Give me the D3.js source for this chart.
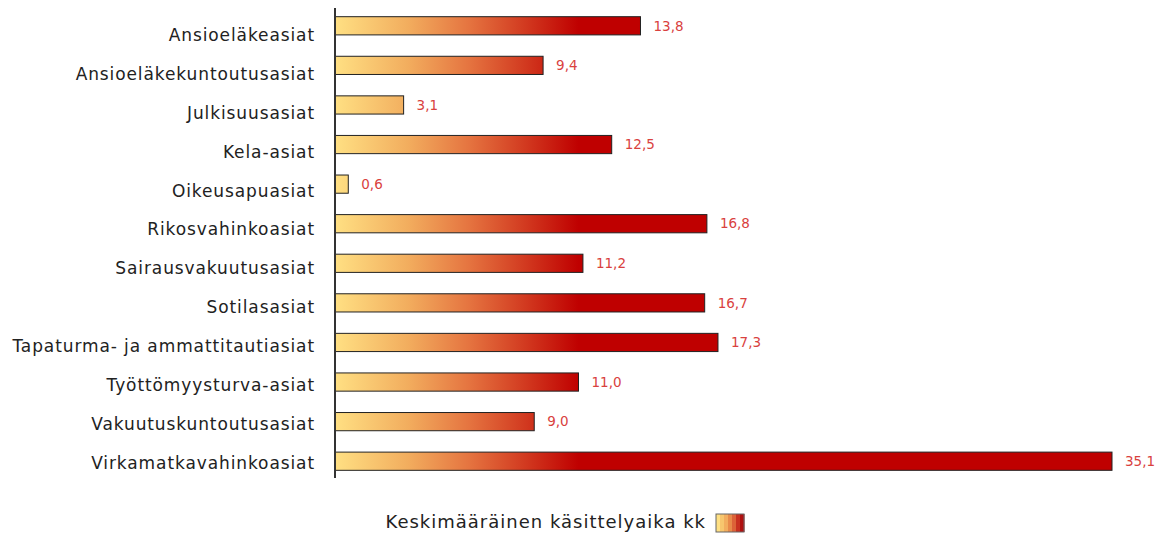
<!DOCTYPE html>
<html>
<head>
<meta charset="utf-8">
<script src="https://cdn.jsdelivr.net/npm/d3@7"></script>
<style>
  body { margin: 0; background: #fff; }
  text { font-family: "DejaVu Sans", sans-serif; }
</style>
</head>
<body>
<script>
// Categories and average handling time (months)
var categories = [
  "Ansioeläkeasiat",
  "Ansioeläkekuntoutusasiat",
  "Julkisuusasiat",
  "Kela-asiat",
  "Oikeusapuasiat",
  "Rikosvahinkoasiat",
  "Sairausvakuutusasiat",
  "Sotilasasiat",
  "Tapaturma- ja ammattitautiasiat",
  "Työttömyysturva-asiat",
  "Vakuutuskuntoutusasiat",
  "Virkamatkavahinkoasiat"
]
var values = [13.8, 9.4, 3.1, 12.5, 0.6, 16.8, 11.2, 16.7, 17.3, 11.0, 9.0, 35.1]
var legendLabel = "Keskimääräinen käsittelyaika kk"

var width = 1161, height = 534
var margin = {top: 6, right: 49, bottom: 53, left: 335}

var svg = d3.select("body").append("svg")
  .attr("width", width)
  .attr("height", height)

var x = d3.scaleLinear()
  .domain([0, d3.max(values)])
  .range([margin.left, width - margin.right])

var y = d3.scaleBand()
  .domain(categories)
  .range([margin.top, height - margin.bottom])
  .paddingInner(0.54)
  .paddingOuter(0.27)

// the category labels sit on a slightly tighter grid than the bars
var yLabel = d3.scalePoint()
  .domain(categories)
  .range([35, 463])

// gradient follows the value scale, saturating at ~11 months
var defs = svg.append("defs")
var grad = defs.append("linearGradient")
  .attr("id", "barGrad")
  .attr("gradientUnits", "userSpaceOnUse")
  .attr("x1", x(0)).attr("x2", x(11))
  .attr("y1", 0).attr("y2", 0)
var stops = [["0%", "#ffe083"], ["30%", "#f2ad5e"], ["55%", "#e57440"], ["78%", "#d23a20"], ["100%", "#bf0000"]]
stops.forEach(s => grad.append("stop").attr("offset", s[0]).attr("stop-color", s[1]))

// legend swatch in stripes
var legColors = ["#ffe083", "#f7c66e", "#f2ad5e", "#e88a4a", "#dc6238", "#c83020", "#b01010"]

// bars
svg.selectAll("rect.bar")
  .data(values)
  .enter().append("rect")
  .attr("class", "bar")
  .attr("x", x(0))
  .attr("y", (d, i) => y(categories[i]))
  .attr("width", d => x(d) - x(0))
  .attr("height", y.bandwidth())
  .attr("fill", "url(#barGrad)")
  .attr("stroke", "#222")
  .attr("stroke-width", 1)

// value labels
svg.selectAll("text.val")
  .data(values)
  .enter().append("text")
  .attr("class", "val")
  .attr("x", d => x(d) + 13)
  .attr("y", (d, i) => y(categories[i]) + y.bandwidth() / 2)
  .attr("dy", "0.35em")
  .attr("fill", "#d9413e")
  .style("font-size", "13.5px")
  .text(d => d3.format(".1f")(d).replace(".", ","))

// category axis line
svg.append("line")
  .attr("x1", x(0)).attr("x2", x(0))
  .attr("y1", margin.top + 2).attr("y2", height - margin.bottom - 3)
  .attr("stroke", "#333")
  .attr("stroke-width", 2)

// category labels
svg.selectAll("text.cat")
  .data(categories)
  .enter().append("text")
  .attr("class", "cat")
  .attr("x", x(0) - 20)
  .attr("y", d => yLabel(d))
  .attr("dy", "0.35em")
  .attr("text-anchor", "end")
  .attr("fill", "#222")
  .style("font-size", "17px")
  .style("letter-spacing", "0.9px")
  .text(d => d)

// legend
var legend = svg.append("g")
legend.append("text")
  .attr("x", 706)
  .attr("y", 522)
  .attr("text-anchor", "end")
  .attr("dy", "0.35em")
  .attr("fill", "#222")
  .style("font-size", "18px")
  .style("letter-spacing", "1px")
  .text(legendLabel)
var sw = d3.scaleBand().domain(d3.range(legColors.length)).range([716, 744])
legend.selectAll("rect.sw")
  .data(legColors)
  .enter().append("rect")
  .attr("x", (d, i) => sw(i))
  .attr("y", 514)
  .attr("width", sw.bandwidth() + 0.5)
  .attr("height", 18)
  .attr("fill", d => d)
legend.append("rect")
  .attr("x", 716)
  .attr("y", 514)
  .attr("width", 28)
  .attr("height", 18)
  .attr("fill", "none")
  .attr("stroke", "#666")
</script>
</body>
</html>
